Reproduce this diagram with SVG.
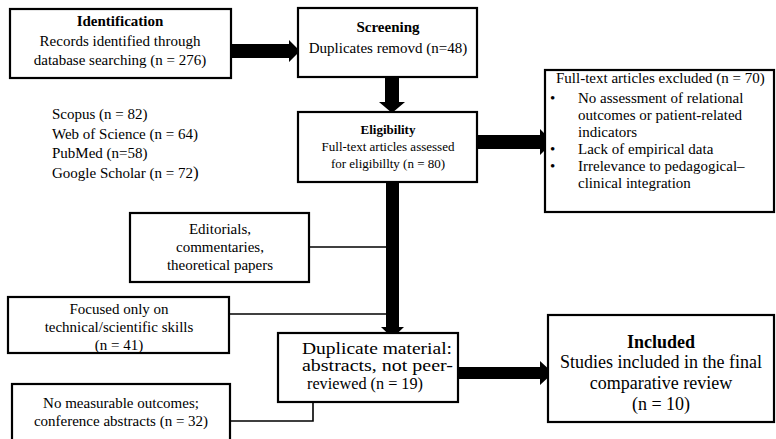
<svg xmlns="http://www.w3.org/2000/svg" width="776" height="439" viewBox="0 0 776 439">
<style>
.box{fill:#fff;stroke:#000;stroke-width:2.2}
text{font-family:"Liberation Serif","Times New Roman",serif;fill:#000}
.t{font-size:15px}
.c{text-anchor:middle}
.b{font-weight:bold}
.ln{fill:none;stroke:#000;stroke-width:1.6}
.ar{fill:#000}
</style>
<rect width="776" height="439" fill="#fff"/>
<g id="connectors">
<polyline class="ln" points="309,247 391,247"/>
<polyline class="ln" points="229,314 391,314"/>
<polyline class="ln" points="230,421 313,421 313,402"/>
<polygon class="ar" points="231,44 289,44 289,40 300,51 289,62 289,58 231,58"/>
<polygon class="ar" points="385,77 399,77 399,102 405,102 392,113 379,102 385,102"/>
<polygon class="ar" points="477,135 540,135 540,129 553,142 540,155 540,149 477,149"/>
<polygon class="ar" points="386,182 399,182 399,327 404,327 392.5,338 381,327 386,327"/>
<polygon class="ar" points="458,367 540,367 540,361 553,373 540,385 540,379 458,379"/>
</g>
<g id="identification">
<rect class="box" x="10" y="9" width="221" height="69"/>
<text class="t c b" x="120" y="26">Identification</text>
<text class="t c" x="120" y="46">Records identified through</text>
<text class="t c" x="120" y="65">database searching (n = 276)</text>
</g>
<g id="sources">
<text class="t" x="52" y="119">Scopus (n = 82)</text>
<text class="t" x="52" y="139">Web of Science (n = 64)</text>
<text class="t" x="52" y="158">PubMed (n=58)</text>
<text class="t" x="52" y="178">Google Scholar (n = 72<tspan font-size="17">)</tspan></text>
</g>
<g id="screening">
<rect class="box" x="298" y="8" width="179" height="69"/>
<text class="t c b" x="388" y="32">Screening</text>
<text class="t c" x="388" y="53">Duplicates removd (n=48)</text>
</g>
<g id="eligibility">
<rect class="box" x="298" y="112" width="179" height="70"/>
<text class="c b" font-size="13" x="388" y="134">Eligibility</text>
<text class="c" font-size="13" x="388" y="151">Full-text articles assessed</text>
<text class="c" font-size="13" x="388" y="168">for eligibillty (n = 80)</text>
</g>
<g id="excluded">
<rect class="box" x="545" y="70" width="229" height="142"/>
<text class="t" x="556" y="83">Full-text articles excluded (n = 70)</text>
<text class="t" x="550" y="103">•</text>
<text class="t" x="578" y="103">No assessment of relational</text>
<text class="t" x="578" y="120">outcomes or patient-related</text>
<text class="t" x="578" y="137">indicators</text>
<text class="t" x="550" y="154">•</text>
<text class="t" x="578" y="154">Lack of empirical data</text>
<text class="t" x="550" y="171">•</text>
<text class="t" x="578" y="171">Irrelevance to pedagogical–</text>
<text class="t" x="578" y="188">clinical integration</text>
</g>
<g id="editorials">
<rect class="box" x="130" y="213" width="179" height="69"/>
<text class="t c" x="220" y="234">Editorials,</text>
<text class="t c" x="220" y="252">commentaries,</text>
<text class="t c" x="220" y="270">theoretical papers</text>
</g>
<g id="focused">
<rect class="box" x="8" y="297" width="221" height="56"/>
<text class="t c" x="119" y="314">Focused only on</text>
<text class="t c" x="119" y="332">technical/scientific skills</text>
<text class="t c" x="119" y="350">(n = 41)</text>
</g>
<g id="duplicate">
<rect class="box" x="278" y="333" width="180" height="69"/>
<text font-size="16" x="302" y="354" textLength="150" lengthAdjust="spacingAndGlyphs">Duplicate material:</text>
<text font-size="16" x="302" y="371" textLength="151" lengthAdjust="spacingAndGlyphs">abstracts, not peer-</text>
<text font-size="16" x="307" y="389" textLength="116" lengthAdjust="spacingAndGlyphs">reviewed (n = 19)</text>
</g>
<g id="nomeasurable">
<rect class="box" x="12" y="384" width="218" height="60"/>
<text class="t c" x="121" y="408">No measurable outcomes;</text>
<text class="t c" x="121" y="426">conference abstracts (n = 32)</text>
</g>
<g id="included">
<rect class="box" x="548" y="315" width="226" height="107"/>
<text class="c b" font-size="18" x="661" y="348">Included</text>
<text class="c" font-size="18" x="661" y="368">Studies included in the final</text>
<text class="c" font-size="18" x="661" y="389">comparative review</text>
<text class="c" font-size="18" x="661" y="410">(n = 10)</text>
</g>
</svg>
